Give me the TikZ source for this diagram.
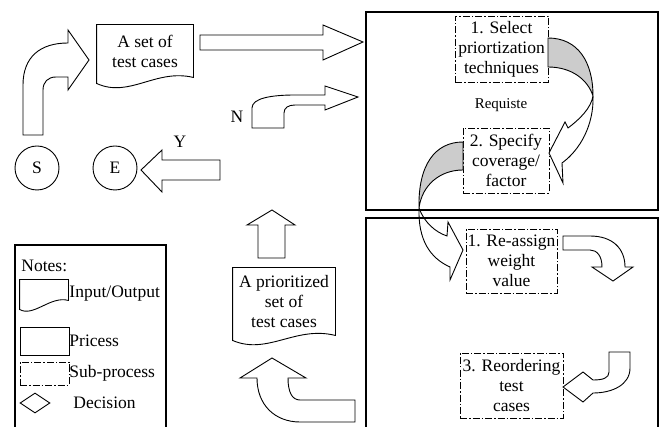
\documentclass[tikz,border=0pt]{standalone}
\usepackage{fontspec}
\setmainfont{Liberation Serif}
\usetikzlibrary{shapes.geometric,calc}
\begin{document}
\begin{tikzpicture}[x=1pt,y=-1pt,line width=0.9pt,every node/.style={font=\fontsize{17.5}{20}\selectfont}]
\tikzstyle{subproc} = [draw,dash pattern=on 7pt off 2pt on 1.5pt off 2pt,align=center,inner sep=1pt]
\tikzstyle{io} = [align=center,inner sep=0pt]
\tikzstyle{terminal} = [circle,draw,minimum size=44pt,inner sep=0pt]
\tikzstyle{frame} = [draw,line width=1.5pt]
\tikzstyle{blockarrow} = [draw,fill=white,line join=miter]
\tikzstyle{label} = [anchor=west,inner sep=0pt]

\clip (0,0) rectangle (661,427);

% input and start / end
\node [io,minimum width=96pt,minimum height=52pt] (v1) at (145,51) {A set of\\test cases};
\draw (v1.north west) -- (v1.north east) -- (v1.south east) .. controls +(-38,-9) and +(33,15) .. ($(v1.south west)+(0,6)$) -- cycle;
\node [terminal] (v2) at (37,168) {S};
\node [terminal] (v3) at (115,168) {E};
\draw [blockarrow] (23,135) -- (23,85) .. controls (23,57) and (40,43) .. (68,43) -- (68,30) -- (89,60) -- (68,90) -- (68,77) -- (56,77) .. controls (48,77) and (43,82) .. (43,90) -- (43,135) -- cycle;
\draw [blockarrow] (200,35) -- (323,35) -- (323,25) -- (363,42) -- (323,60) -- (323,50) -- (200,50) -- cycle;
\draw [blockarrow] (252,128) -- (252,108) .. controls (252,98) and (272,95) .. (295,95) -- (325,95) -- (325,86) -- (358,97) -- (325,110) -- (325,105) -- (295,105) .. controls (288,105) and (284,108) .. (284,113) -- (284,128) -- cycle;
\node (v4) at (237,117) {N};
\draw [blockarrow] (220,160) -- (162,160) -- (162,150) -- (141,170) -- (162,192) -- (162,180) -- (220,180) -- cycle;
\node (v5) at (180,142) {Y};

% upper frame
\node [subproc,minimum width=93pt,minimum height=66pt] (v6) at (501.5,49) {1. Select\\priortization\\techniques};
\node [font=\fontsize{15}{18}\selectfont] (v7) at (501,105) {Requiste};
\node [subproc,minimum width=86pt,minimum height=65pt] (v8) at (506,160.5) {2. Specify\\coverage/\\factor};
\draw [fill=gray!40] (548,38) .. controls (578,38) and (593,62) .. (593,96) .. controls (588,80) and (572,67) .. (548,67) -- cycle;
\draw [blockarrow] (593,96) .. controls (594,125) and (580,150) .. (562,163) -- (563,183) -- (549,153) -- (565,122) -- (568,128) .. controls (580,119) and (591,108) .. (593,96);
\draw [fill=gray!40] (463,142) .. controls (435,142) and (418,165) .. (419,208) .. controls (422,185) and (440,170) .. (463,170) -- cycle;
\draw [line join=miter] (419,208) .. controls (418,240) and (430,258) .. (450,267) -- (450,280) -- (463,250) -- (448,222) -- (447,236) .. controls (435,232) and (424,222) .. (419,208);

% lower frame
\node [subproc,minimum width=91pt,minimum height=64pt] (v9) at (511.5,261) {1. Re-assign\\weight\\value};
\node [subproc,minimum width=103pt,minimum height=65pt] (v10) at (511.5,385.5) {3. Reordering\\test\\cases};
\draw [blockarrow] (563,236) -- (590,236) .. controls (612,236) and (625,248) .. (625,267) -- (633,267) -- (613,281) -- (592,267) -- (602,267) .. controls (602,256) and (597,250) .. (590,250) -- (563,250) -- cycle;
\draw [blockarrow] (609,352) -- (630,352) -- (630,368) .. controls (630,385) and (612,393) .. (593,393) -- (583,402) -- (563,387) -- (583,372) -- (593,380) .. controls (603,380) and (609,378) .. (609,372) -- cycle;

% output
\node [io,minimum width=102pt,minimum height=67pt] (v11) at (284,301.5) {A prioritized\\set of\\test cases};
\draw (v11.north west) -- (v11.north east) -- (v11.south east) .. controls +(-40,-10) and +(35,15) .. ($(v11.south west)+(0,5)$) -- cycle;
\draw [blockarrow] (258,258) -- (258,225) -- (247,225) -- (272,210) -- (295,225) -- (285,225) -- (285,258) -- cycle;
\draw [blockarrow] (355,400) -- (300,400) .. controls (292,400) and (288,392) .. (288,378) -- (306,378) -- (272,358) -- (240,378) -- (257,378) .. controls (257,405) and (275,422) .. (300,422) -- (355,422) -- cycle;

% notes
\node [label] (v12) at (21,266) {Notes:};
\node [io,minimum width=48pt,minimum height=20pt] (v13) at (44,290) {};
\draw (v13.north west) -- (v13.north east) -- (v13.south east) .. controls +(-18,-5) and +(14,8) .. ($(v13.south west)+(0,9)$) -- cycle;
\node [label] (v14) at (69,294) {Input/Output};
\node [draw,minimum width=49pt,minimum height=28pt] (v15) at (44.5,341) {};
\node [label] (v16) at (69,341) {Pricess};
\node [subproc,minimum width=49pt,minimum height=23pt] (v17) at (44.5,373.5) {};
\node [label] (v18) at (69,373) {Sub-process};
\node [diamond,draw,aspect=1.5,minimum width=30pt,minimum height=20pt,inner sep=0pt] (v19) at (35,403) {};
\node [label] (v20) at (73,403) {Decision};

\draw [frame] (366,12) rectangle (658,210);
\draw [frame] (366,218) rectangle (658,440);
\draw [frame] (15,245) rectangle (166,440);
\end{tikzpicture}
\end{document}
